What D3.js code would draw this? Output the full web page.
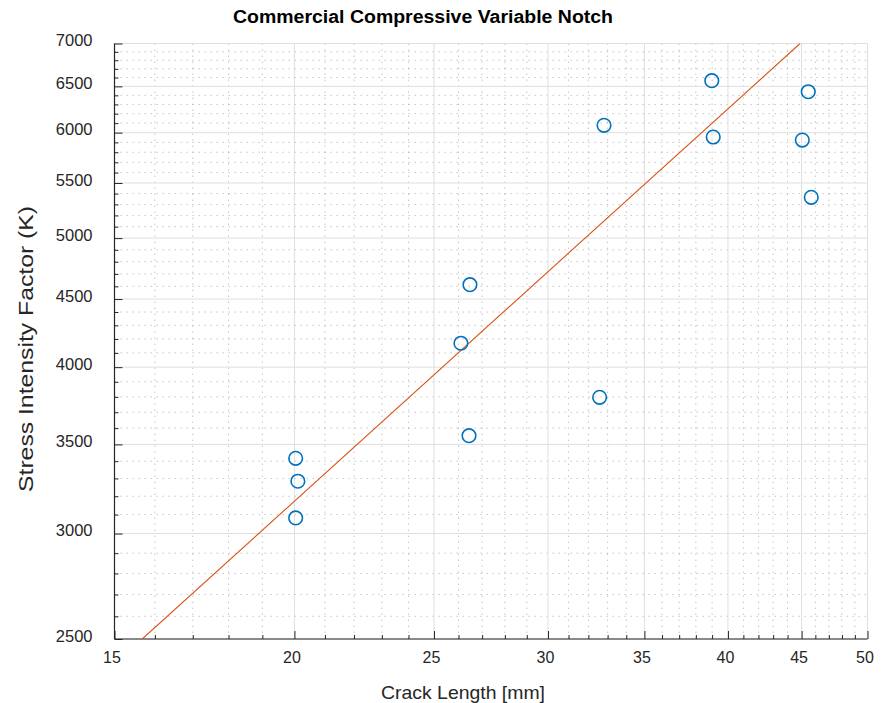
<!DOCTYPE html>
<html>
<head>
<meta charset="utf-8">
<script src="https://cdn.jsdelivr.net/npm/d3@7"></script>
<style>
  html, body { margin: 0; padding: 0; background: #ffffff; }
  svg { display: block; font-family: "Liberation Sans", Arial, Helvetica, sans-serif; }
</style>
</head>
<body>
<svg id="chart" width="881" height="703"></svg>
<script>
// ---- data ----
const crackLength = [20.04, 20.11, 20.04, 26.44, 26.48, 26.10, 32.58, 32.81, 38.98, 39.07, 45.48, 45.05, 45.70];
const stressFactor = [3417, 3284, 3082, 3553, 4613, 4169, 3797, 6077, 6564, 5955, 6440, 5924, 5365];
const fitLineX = [15.68, 44.89];
const fitLineY = [2500, 7000];
const xMajorTicks = [15, 20, 25, 30, 35, 40, 45, 50];
const yMajorTicks = [2500, 3000, 3500, 4000, 4500, 5000, 5500, 6000, 6500, 7000];
const xMinorTicks = d3.range(16, 50).filter(v => v % 5 !== 0);
const yMinorTicks = d3.range(2600, 7000, 100).filter(v => v % 500 !== 0);
const titleText = "Commercial Compressive Variable Notch";
const xLabelText = "Crack Length [mm]";
const yLabelText = "Stress Intensity Factor (K)";

// ---- layout ----
const L = 114.5, R = 867.5, T = 43.5, B = 639;
const svg = d3.select("#chart");
const x = d3.scaleLog().domain([15, 50]).range([L, R]);
const y = d3.scaleLog().domain([2500, 7000]).range([B, T]);

const axisColor = "#262626";

// minor grid (dotted)
const gMinor = svg.append("g");
gMinor.selectAll("line.vx").data(xMinorTicks).join("line")
  .attr("x1", d => x(d)).attr("x2", d => x(d)).attr("y1", T).attr("y2", B)
  .attr("stroke", "#9a9a9a").attr("stroke-width", 0.8).attr("stroke-dasharray", "1.5,4.5").attr("opacity", 0.7);
gMinor.selectAll("line.hy").data(yMinorTicks).join("line")
  .attr("y1", d => y(d)).attr("y2", d => y(d)).attr("x1", L).attr("x2", R)
  .attr("stroke", "#9a9a9a").attr("stroke-width", 0.8).attr("stroke-dasharray", "1.5,4.5").attr("opacity", 0.7);

// major grid
const gMajor = svg.append("g");
gMajor.selectAll("line.vx").data(xMajorTicks).join("line")
  .attr("x1", d => x(d)).attr("x2", d => x(d)).attr("y1", T).attr("y2", B)
  .attr("stroke", "#dfdfdf").attr("stroke-width", 1);
gMajor.selectAll("line.hy").data(yMajorTicks).join("line")
  .attr("y1", d => y(d)).attr("y2", d => y(d)).attr("x1", L).attr("x2", R)
  .attr("stroke", "#dfdfdf").attr("stroke-width", 1);

// axes (ticks inward)
const xAxis = d3.axisBottom(x).tickValues(xMajorTicks).tickSize(-8).tickPadding(13)
  .tickFormat(d3.format("d"));
const gx = svg.append("g").attr("transform", `translate(0,${B})`).call(xAxis);
gx.select(".domain").attr("stroke", axisColor).attr("stroke-width", 1.2).attr("d", `M${L},0H${R}`);
gx.selectAll(".tick line").attr("stroke", axisColor);
gx.selectAll(".tick text").attr("fill", axisColor).attr("font-size", 16)
  .attr("font-family", "Liberation Sans, Arial, sans-serif").attr("dx", -3);
const xMinorAxis = d3.axisBottom(x).tickValues(xMinorTicks).tickSize(-4).tickFormat("");
const gxm = svg.append("g").attr("transform", `translate(0,${B})`).call(xMinorAxis);
gxm.select(".domain").remove();
gxm.selectAll(".tick line").attr("stroke", axisColor);

const yAxis = d3.axisLeft(y).tickValues(yMajorTicks).tickSize(-8).tickPadding(22)
  .tickFormat(d3.format("d"));
const gy = svg.append("g").attr("transform", `translate(${L},0)`).call(yAxis);
gy.select(".domain").attr("stroke", axisColor).attr("stroke-width", 1.2).attr("d", `M0,${T}V${B}`);
gy.selectAll(".tick line").attr("stroke", axisColor);
gy.selectAll(".tick text").attr("fill", axisColor).attr("font-size", 16.5)
  .attr("font-family", "Liberation Sans, Arial, sans-serif").attr("dy", "0.14em");
const yMinorAxis = d3.axisLeft(y).tickValues(yMinorTicks).tickSize(-4).tickFormat("");
const gym = svg.append("g").attr("transform", `translate(${L},0)`).call(yMinorAxis);
gym.select(".domain").remove();
gym.selectAll(".tick line").attr("stroke", axisColor);

// fit line
svg.append("defs").append("clipPath").attr("id", "plotclip")
  .append("rect").attr("x", L).attr("y", T).attr("width", R - L).attr("height", B - T);
const fitData = fitLineX.map((v, i) => [v, fitLineY[i]]);
svg.append("path").datum(fitData)
  .attr("d", d3.line().x(d => x(d[0])).y(d => y(d[1])))
  .attr("fill", "none").attr("stroke", "#D95319").attr("stroke-width", 1.1)
  .attr("clip-path", "url(#plotclip)");

// data points
const pts = crackLength.map((v, i) => [v, stressFactor[i]]);
svg.append("g").selectAll("circle").data(pts).join("circle")
  .attr("cx", d => x(d[0])).attr("cy", d => y(d[1])).attr("r", 6.8)
  .attr("fill", "none").attr("stroke", "#0072BD").attr("stroke-width", 1.6);

// labels
svg.append("text").attr("x", 423).attr("y", 23).attr("text-anchor", "middle")
  .attr("font-size", 17.5).attr("font-weight", "bold").attr("fill", "#000")
  .attr("textLength", 380).attr("lengthAdjust", "spacingAndGlyphs")
  .text(titleText);
svg.append("text").attr("x", 463).attr("y", 699).attr("text-anchor", "middle")
  .attr("font-size", 19).attr("fill", axisColor)
  .attr("textLength", 164).attr("lengthAdjust", "spacingAndGlyphs")
  .text(xLabelText);
svg.append("text").attr("transform", "translate(33,349) rotate(-90)").attr("text-anchor", "middle")
  .attr("font-size", 20).attr("fill", axisColor)
  .attr("textLength", 286).attr("lengthAdjust", "spacingAndGlyphs")
  .text(yLabelText);
</script>
</body>
</html>
